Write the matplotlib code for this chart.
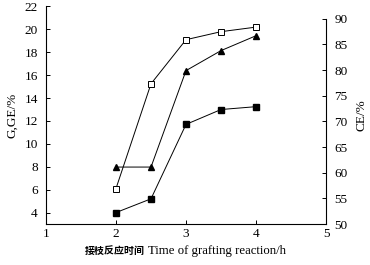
import matplotlib.pyplot as plt
import numpy as np

plt.rcParams.update({
    'font.family': ['Liberation Serif', 'Noto Sans CJK SC'],
    'axes.unicode_minus': False,
})

# data
time_h = [2, 2.5, 3, 3.5, 4]
g_open = [6.1, 15.25, 19.1, 19.8, 20.2]     # open squares, left axis
g_filled = [4.0, 5.2, 11.7, 13.0, 13.25]    # filled squares, left axis
ce = [61.1, 61.1, 79.9, 83.8, 86.7]         # triangles, right axis

xticks = [1, 2, 3, 4, 5]
yticks_left = np.arange(4, 23, 2)
yticks_right = np.arange(50, 91, 5)

fig = plt.figure(figsize=(3.7, 2.65), dpi=100)
ax = fig.add_axes([0.1243, 0.1547, 0.7568, 0.8208])
ax2 = ax.twinx()

ax.plot(time_h, g_open, color='black', lw=0.7, marker='s', ms=4,
        mfc='white', mec='black', mew=0.7, zorder=3)
ax.plot(time_h, g_filled, color='black', lw=0.7, marker='s', ms=4,
        mfc='black', mec='black', zorder=3)
ax2.plot(time_h, ce, color='black', lw=0.7, marker='^', ms=5,
         mfc='black', mec='black', zorder=3)

ax.set_xlim(1, 5)
ax.set_ylim(3, 22)
ax2.set_ylim(50, 92.4)
ax.set_xticks(xticks)
ax.set_yticks(yticks_left)
ax2.set_yticks(yticks_right)

for a in (ax, ax2):
    a.spines['top'].set_visible(False)
    for s in a.spines.values():
        s.set_linewidth(0.8)
        s.set_color('black')
ax.spines['right'].set_visible(False)
ax2.spines['left'].set_visible(False)
ax2.spines['bottom'].set_visible(False)
ax2.spines['right'].set_bounds(50, 90)

ax.tick_params(direction='in', length=3, width=0.7, labelsize=9.5, pad=6)
ax.tick_params(axis='x', pad=3)
ax2.tick_params(direction='in', length=3, width=0.7, labelsize=9.5, pad=6)

ax.set_ylabel('G,GE/%', fontsize=9.5, labelpad=4)
ax2.set_ylabel('CE/%', fontsize=9.5, labelpad=6)

# x label: bold Chinese part + serif English part
ax.text(0.354, -0.125, '接枝反应时间', transform=ax.transAxes,
        ha='right', va='center', fontsize=7.2, fontweight='bold',
        family=['Noto Sans CJK SC'])
ax.text(0.364, -0.125, 'Time of grafting reaction/h', transform=ax.transAxes,
        ha='left', va='center', fontsize=9.2, family=['Liberation Serif'])

fig.savefig('out.png', dpi=100, facecolor='white')
